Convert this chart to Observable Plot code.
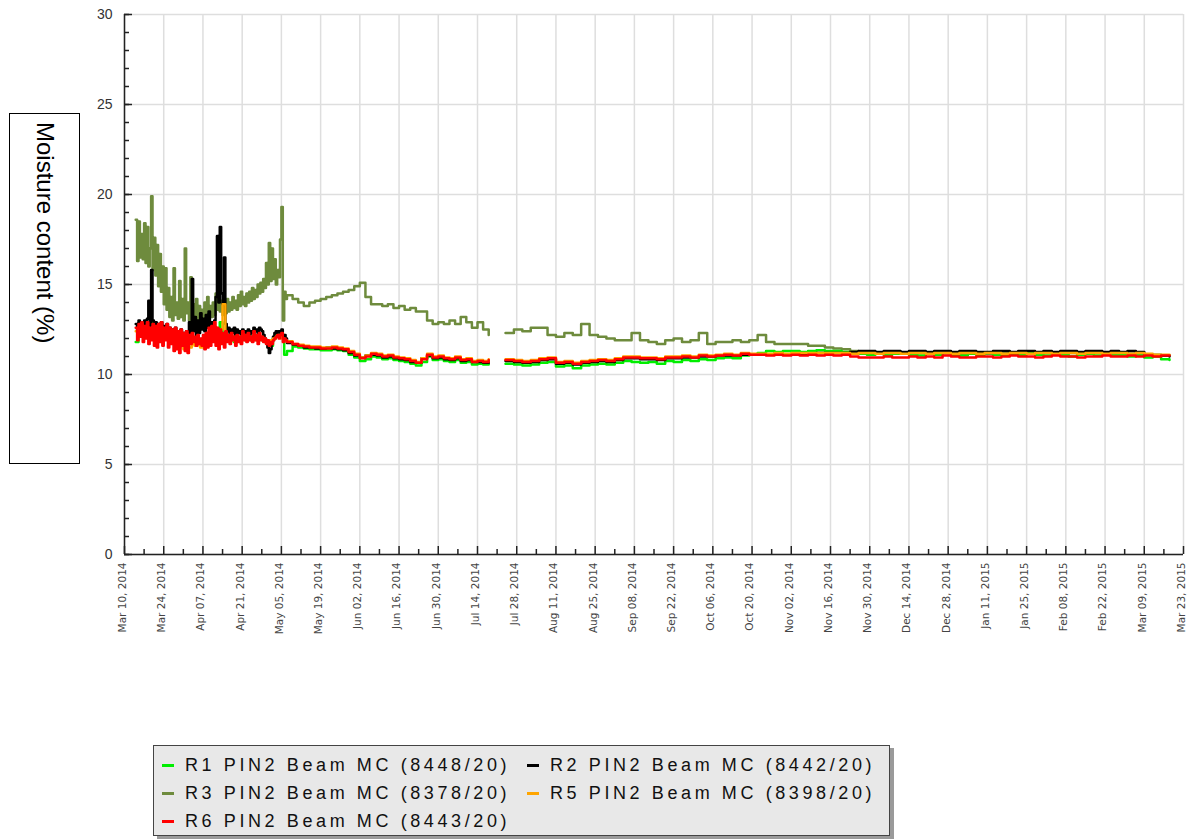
<!DOCTYPE html>
<html>
<head>
<meta charset="utf-8">
<script src="https://cdn.jsdelivr.net/npm/d3@7"></script>
<script src="https://cdn.jsdelivr.net/npm/@observablehq/plot@0.6"></script>
<style>
  html, body { margin: 0; padding: 0; background: #fff; }
  #wrap { position: relative; width: 1188px; height: 840px; overflow: hidden; }
  #chart { position: absolute; left: 0; top: 0; }
  #ylabel { position: absolute; left: 9px; top: 113px; width: 71px; height: 351px; border: 1px solid #000; box-sizing: border-box; background: #fff; }
  #ylabel span { position: absolute; left: 50%; top: 8px; transform: translateX(-50%); writing-mode: vertical-rl; font: 24px "Liberation Sans", Arial, sans-serif; color: #000; white-space: nowrap; }
  #legend { position: absolute; left: 153px; top: 745px; width: 737px; height: 91px; background: #e8e8e8; border: 1px solid #444; box-sizing: border-box; box-shadow: 4px 3px 0 #9a9a9a; }
  .item { position: absolute; height: 24px; display: flex; align-items: center; font: 18px "Liberation Sans", Arial, sans-serif; letter-spacing: 3.6px; color: #111; white-space: nowrap; }
  .sw { width: 12px; height: 3px; margin-right: 11px; }
</style>
</head>
<body>
<div id="wrap">
  <div id="chart"></div>
  <div id="ylabel"><span id="ylabelText"></span></div>
  <div id="legend"></div>
</div>
<script>
// ---------------- DATA ----------------
const yTitle = "Moisture content (%)";
const seriesNames = ["R1 PIN2 Beam MC (8448/20)", "R2 PIN2 Beam MC (8442/20)", "R3 PIN2 Beam MC (8378/20)", "R5 PIN2 Beam MC (8398/20)", "R6 PIN2 Beam MC (8443/20)"];
const seriesColors = ["#00ee00", "#000000", "#6e8b3d", "#ffa500", "#ff0000"];
const xTickLabels = ["Mar 10, 2014","Mar 24, 2014","Apr 07, 2014","Apr 21, 2014","May 05, 2014","May 19, 2014","Jun 02, 2014","Jun 16, 2014","Jun 30, 2014","Jul 14, 2014","Jul 28, 2014","Aug 11, 2014","Aug 25, 2014","Sep 08, 2014","Sep 22, 2014","Oct 06, 2014","Oct 20, 2014","Nov 02, 2014","Nov 16, 2014","Nov 30, 2014","Dec 14, 2014","Dec 28, 2014","Jan 11, 2015","Jan 25, 2015","Feb 08, 2015","Feb 22, 2015","Mar 09, 2015","Mar 23, 2015"];
const yTicks = [0, 5, 10, 15, 20, 25, 30];

// sampling: day offsets from Mar 10, 2014
const earlyHalf = {start: 4, step: 0.5, seg: "a"};   // Mar 14 - May 6, every 12 h
const earlyDaily = {start: 4, step: 1, seg: "a"};    // Mar 14 - May 6, daily
const midSpan = {start: 58, step: 2, seg: "a"};      // May 8 - Jul 18
const lateSpan = {start: 136, step: 3, seg: "b"};    // Jul 24 - Mar 18, 2015

// R1 (green)
const r1Early = [11.8,12.6,12.4,12.3,12.5,12.2,12.9,12.3,12.1,12.4,12.0,12.3,11.9,12.1,11.8,12.0,11.7,11.9,11.8,11.9,12.0,11.8,11.9,11.7,11.9,12.1,12.0,12.2,12.4,12.1,12.9,12.0,11.9,12.0,11.9,11.8,12.0,11.9,12.1,11.9,12.0,11.9,12.1,11.9,12.0,11.9,11.8,11.7,11.6,12.0,12.3,12.4,12.2,11.1];
const r1Mid = [11.3,11.55,11.5,11.45,11.4,11.4,11.35,11.35,11.4,11.35,11.3,11.1,10.95,10.75,10.85,11.0,10.95,10.85,10.9,10.8,10.75,10.7,10.6,10.5,10.7,11.0,10.8,10.85,10.75,10.7,10.8,10.65,10.7,10.55,10.6,10.55,10.65];
const r1Late = [10.6,10.55,10.5,10.55,10.65,10.7,10.45,10.5,10.35,10.5,10.55,10.6,10.55,10.65,10.75,10.7,10.65,10.7,10.6,10.75,10.7,10.8,10.75,10.85,10.8,10.9,10.95,10.9,11.05,11.1,11.2,11.3,11.25,11.3,11.3,11.25,11.3,11.35,11.3,11.3,11.25,11.2,11.15,11.1,11.2,11.1,11.15,11.2,11.1,11.05,11.15,11.1,11.2,11.1,11.05,11.15,11.1,11.2,11.1,11.05,11.15,11.1,11.2,11.1,11.05,11.15,11.1,11.0,11.1,11.15,11.05,11.1,11.05,11.1,11.0,11.05,10.95,11.0,10.85,10.8];

// R2 (black)
const r2Early = [12.8,12.5,13.0,12.6,12.9,12.4,13.0,12.6,13.1,14.1,12.7,15.8,13.0,12.6,12.9,12.3,12.8,12.4,12.9,12.2,12.7,12.4,12.8,12.1,12.6,12.0,12.5,11.8,12.6,12.0,12.4,11.7,12.5,12.0,12.3,11.6,12.4,12.1,12.9,12.3,15.3,12.4,13.2,12.2,13.0,12.3,13.4,12.5,13.1,12.4,13.3,12.6,13.5,12.4,12.9,12.6,13.0,14.3,17.7,14.0,18.2,14.5,13.9,16.5,12.8,12.4,12.6,12.2,12.5,12.3,12.6,12.2,12.5,12.3,12.4,12.2,12.5,12.3,12.4,12.1,12.5,12.2,12.4,12.3,12.6,12.4,12.5,12.3,12.6,12.5,12.4,12.2,12.0,11.8,11.5,11.2,11.4,11.8,12.1,12.3,12.4,12.3,12.4,12.2,12.5,12.1,12.2,12.0];
const r2Mid = [11.75,11.65,11.6,11.5,11.5,11.45,11.45,11.5,11.45,11.4,11.35,11.2,11.05,10.95,11.05,11.1,11.05,10.95,11.0,10.9,10.85,10.8,10.7,10.65,10.9,11.05,10.9,10.95,10.85,10.8,10.9,10.75,10.8,10.7,10.7,10.65,10.75];
const r2Late = [10.75,10.7,10.65,10.7,10.8,10.85,10.6,10.65,10.55,10.65,10.7,10.75,10.7,10.8,10.9,10.9,10.85,10.85,10.8,10.9,10.9,10.95,10.95,11.0,11.0,11.05,11.05,11.05,11.1,11.1,11.1,11.1,11.15,11.1,11.15,11.15,11.15,11.2,11.2,11.2,11.2,11.25,11.3,11.3,11.25,11.3,11.3,11.25,11.3,11.3,11.25,11.3,11.3,11.25,11.3,11.3,11.25,11.25,11.3,11.3,11.25,11.3,11.3,11.25,11.3,11.25,11.3,11.3,11.25,11.3,11.3,11.25,11.3,11.25,11.3,11.25,11.1,11.05,11.05,11.0];

// R3 (olive)
const r3Early = [18.6,16.3,18.5,16.5,17.8,16.4,18.4,16.2,18.2,16.0,17.0,19.9,15.8,17.6,15.5,17.2,14.9,16.7,14.6,16.0,13.9,15.9,13.6,14.8,13.2,14.3,13.0,15.9,13.3,14.0,13.1,15.2,13.2,14.2,13.0,17.0,13.4,14.0,13.0,15.4,13.2,13.9,13.0,14.2,13.1,13.8,13.0,13.6,13.2,14.0,13.1,14.3,13.3,13.8,13.2,14.0,13.3,14.5,13.6,14.4,13.5,14.1,13.3,14.0,13.4,14.2,13.5,14.0,13.6,14.3,13.7,14.1,13.6,14.4,13.8,14.6,13.9,14.3,13.8,14.5,14.0,14.6,14.1,14.8,14.2,14.7,14.3,15.0,14.5,15.1,14.6,15.3,14.8,16.2,15.0,17.3,15.2,17.0,15.3,16.4,15.0,15.8,15.4,17.5,19.3,13.0,14.6,14.2];
const r3Mid = [14.4,14.2,14.0,13.8,14.0,14.1,14.2,14.3,14.4,14.5,14.6,14.7,14.9,15.1,14.3,13.9,13.9,13.8,13.9,13.7,13.8,13.6,13.7,13.5,13.5,13.0,12.8,12.9,12.8,13.0,12.8,13.2,12.9,12.6,12.9,12.5,12.2];
const r3Late = [12.3,12.5,12.4,12.6,12.6,12.2,12.1,12.3,12.2,12.8,12.2,12.1,12.0,11.9,11.9,12.3,11.9,11.8,11.7,11.9,12.0,11.8,11.9,12.3,11.7,11.8,11.8,11.9,11.8,11.9,12.2,11.8,11.7,11.7,11.7,11.7,11.6,11.6,11.5,11.45,11.4,11.3,11.25,11.2,11.2,11.15,11.2,11.2,11.15,11.2,11.2,11.15,11.2,11.2,11.15,11.2,11.2,11.15,11.2,11.2,11.15,11.2,11.2,11.15,11.2,11.2,11.15,11.2,11.2,11.15,11.2,11.2,11.15,11.2,11.15,11.1,11.1,11.1,11.05,11.05];

// R5 (orange)
const r5Early = [12.4,12.5,12.3,12.6,12.2,12.5,12.4,12.2,12.5,12.1,12.3,12.0,12.2,11.8,11.9,11.5,11.7,11.4,11.6,11.5,11.7,11.6,11.8,11.5,11.7,11.9,12.3,12.5,12.6,12.4,12.5,13.9,12.2,11.9,12.1,11.9,12.0,12.1,12.2,12.0,12.1,12.0,12.2,12.0,12.1,12.0,11.9,11.8,11.9,12.0,12.1,12.2,12.0,11.9];
const r5Mid = [11.85,11.7,11.65,11.6,11.55,11.55,11.5,11.5,11.55,11.5,11.45,11.3,11.15,10.95,11.05,11.2,11.15,11.05,11.1,11.0,10.95,10.9,10.8,10.7,10.9,11.15,11.0,11.05,10.95,10.9,11.0,10.85,10.9,10.75,10.8,10.75,10.85];
const r5Late = [10.85,10.8,10.75,10.8,10.9,10.95,10.7,10.75,10.65,10.75,10.8,10.85,10.8,10.9,11.0,11.0,10.95,10.95,10.9,11.0,11.0,11.05,11.0,11.1,11.05,11.1,11.15,11.1,11.2,11.15,11.15,11.15,11.2,11.15,11.2,11.2,11.2,11.2,11.2,11.2,11.2,11.15,11.2,11.2,11.15,11.2,11.2,11.15,11.2,11.2,11.15,11.2,11.2,11.15,11.2,11.2,11.15,11.2,11.2,11.15,11.2,11.2,11.15,11.2,11.2,11.15,11.2,11.2,11.15,11.2,11.2,11.15,11.2,11.2,11.15,11.2,11.15,11.1,11.1,11.1];

// R6 (red)
const r6Early = [12.6,11.9,12.8,12.1,12.9,11.8,12.7,12.0,12.9,11.7,12.6,11.9,12.8,11.6,12.7,11.5,12.8,11.8,12.9,11.6,12.6,11.9,12.8,11.5,12.6,11.7,12.5,11.3,12.6,11.4,12.4,11.2,12.5,11.6,12.3,11.3,12.4,11.2,12.2,11.7,12.3,11.8,12.1,11.6,12.2,11.7,12.0,11.6,12.2,11.4,12.3,11.5,12.6,11.6,12.7,11.8,12.9,11.6,12.6,11.4,12.5,11.7,12.3,11.5,12.4,11.8,12.2,11.7,12.3,11.9,12.1,11.6,12.2,11.8,12.1,11.7,12.4,11.9,12.2,11.8,12.3,11.9,12.1,11.8,12.4,11.9,12.2,11.7,12.3,11.9,12.1,11.8,12.0,11.7,11.9,11.6,11.8,11.7,11.9,12.0,12.1,12.2,12.0,12.2,12.3,11.8,12.0,11.9];
const r6Mid = [11.8,11.7,11.6,11.55,11.5,11.5,11.45,11.45,11.5,11.45,11.4,11.25,11.1,10.9,11.0,11.15,11.1,11.0,11.05,10.95,10.9,10.85,10.75,10.65,10.85,11.1,10.95,11.0,10.9,10.85,10.95,10.8,10.85,10.7,10.75,10.7,10.8];
const r6Late = [10.8,10.75,10.7,10.75,10.85,10.9,10.65,10.7,10.6,10.7,10.75,10.8,10.75,10.85,10.95,10.95,10.9,10.9,10.85,10.95,10.95,11.0,10.95,11.05,11.0,11.05,11.1,11.05,11.15,11.1,11.1,11.05,11.1,11.05,11.1,11.05,11.1,11.05,11.1,11.05,11.1,11.0,10.95,10.95,10.95,11.0,10.95,10.95,11.0,10.95,11.0,10.95,11.05,11.0,10.95,10.95,11.0,11.0,10.95,11.0,11.05,11.0,11.0,10.95,11.0,11.05,11.0,11.0,10.95,11.0,11.0,11.05,11.0,11.0,11.05,11.0,11.05,11.0,11.05,11.05];

// ---------------- BUILD ----------------
const t0 = Date.UTC(2014, 2, 10);
const dayDate = d => new Date(t0 + d * 86400000);

const seriesParts = [
  [[r1Early, earlyDaily], [r1Mid, midSpan], [r1Late, lateSpan]],
  [[r2Early, earlyHalf], [r2Mid, midSpan], [r2Late, lateSpan]],
  [[r3Early, earlyHalf], [r3Mid, midSpan], [r3Late, lateSpan]],
  [[r5Early, earlyDaily], [r5Mid, midSpan], [r5Late, lateSpan]],
  [[r6Early, earlyHalf], [r6Mid, midSpan], [r6Late, lateSpan]]
];

function rowsFor(k) {
  const rows = [];
  for (const [vals, span] of seriesParts[k]) {
    vals.forEach((v, i) => rows.push({date: dayDate(span.start + i * span.step), value: v, seg: span.seg}));
  }
  return rows;
}

const drawOrder = [2, 0, 1, 3, 4]; // olive beneath, red on top
const lineMarks = drawOrder.map(k => Plot.line(rowsFor(k), {
  x: "date", y: "value", z: "seg", stroke: seriesColors[k], strokeWidth: 2.5, curve: "step-after"
}));

const majorTicks = xTickLabels.map((_, i) => dayDate(14 * i));
const minorTicks = xTickLabels.slice(1).map((_, i) => dayDate(14 * i + 7));
const labelByTime = new Map(majorTicks.map((d, i) => [+d, xTickLabels[i]]));
const yMinor = d3.range(0, 31, 1);

const chart = Plot.plot({
  width: 1188,
  height: 660,
  marginLeft: 124,
  marginRight: 5,
  marginTop: 14,
  marginBottom: 106,
  x: {type: "utc", domain: [dayDate(0), dayDate(378)], label: null},
  y: {domain: [0, 30], label: null},
  style: {background: "#fff", fontFamily: "'Liberation Sans', Arial, sans-serif", overflow: "visible"},
  marks: [
    Plot.gridY({ticks: yTicks, stroke: "#dedede", strokeOpacity: 1, strokeWidth: 1.5}),
    Plot.gridX({ticks: majorTicks, stroke: "#dedede", strokeOpacity: 1, strokeWidth: 1.5}),
    ...lineMarks,
    Plot.ruleY([0], {stroke: "#222", strokeWidth: 1.5}),
    Plot.ruleX([dayDate(0)], {stroke: "#222", strokeWidth: 1.5}),
    Plot.axisY({ticks: yMinor, tickSize: -5, tickFormat: () => "", stroke: "#222", strokeWidth: 1.5}),
    Plot.axisY({ticks: yTicks, tickSize: -8, tickFormat: () => "", stroke: "#222", strokeWidth: 1.5}),
    Plot.axisY({ticks: yTicks, tickSize: 0, tickPadding: 12, fontSize: 14, fill: "#333"}),
    Plot.axisX({ticks: minorTicks, tickSize: -5, tickFormat: () => "", stroke: "#222", strokeWidth: 1.5}),
    Plot.axisX({ticks: majorTicks, tickSize: -8, tickFormat: () => "", stroke: "#222", strokeWidth: 1.5}),
    Plot.axisX({ticks: majorTicks, tickSize: 0, tickPadding: 8, tickRotate: -90, dx: -2,
      tickFormat: d => labelByTime.get(+d), fontSize: 10.5, fontFamily: "'DejaVu Sans', Verdana, sans-serif", fill: "#444"})
  ]
});
document.getElementById("chart").appendChild(chart);

// y title
document.getElementById("ylabelText").textContent = yTitle;

// legend
const legend = document.getElementById("legend");
seriesNames.forEach((name, i) => {
  const col = i % 2, row = Math.floor(i / 2);
  const item = document.createElement("div");
  item.className = "item";
  item.style.left = (col === 0 ? 8 : 373) + "px";
  item.style.top = (7 + row * 28) + "px";
  const sw = document.createElement("span");
  sw.className = "sw";
  sw.style.background = seriesColors[i];
  const tx = document.createElement("span");
  tx.textContent = name;
  item.appendChild(sw);
  item.appendChild(tx);
  legend.appendChild(item);
});
</script>
</body>
</html>
